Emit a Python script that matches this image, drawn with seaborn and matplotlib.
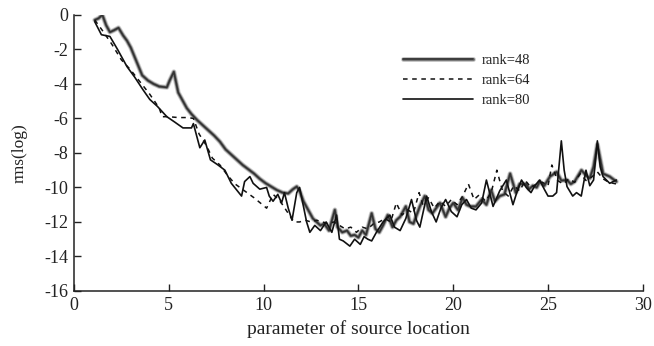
import matplotlib
matplotlib.use("Agg")
import matplotlib.pyplot as plt
import matplotlib.patheffects as pe
import seaborn as sns
import pandas as pd

# ---- data ----
x48 = [1.1, 1.3, 1.5, 1.7, 1.9, 2.1, 2.35, 2.6, 2.8, 3.0,
       3.3, 3.6, 3.9, 4.2, 4.5, 4.9, 5.05, 5.27, 5.5, 5.7,
       5.95, 6.2, 6.5, 6.8, 7.1, 7.4, 7.7, 8.0, 8.3, 8.6,
       8.9, 9.2, 9.5, 9.8, 10.1, 10.4, 10.7, 11.0, 11.3, 11.55,
       11.75, 11.9, 12.1, 12.35, 12.6, 12.8, 13.0, 13.2, 13.45, 13.76,
       13.9, 14.15, 14.4, 14.6, 14.8, 15.0, 15.2, 15.4, 15.7, 15.9,
       16.1, 16.3, 16.55, 16.8, 17.0, 17.2, 17.5, 17.7, 17.9, 18.24,
       18.5, 18.7, 18.9, 19.1, 19.3, 19.6, 19.8, 20.0, 20.25, 20.5,
       20.7, 20.9, 21.2, 21.5, 21.75, 22.0, 22.2, 22.45, 22.7, 23.0,
       23.3, 23.5, 23.85, 24.0, 24.2, 24.4, 24.56, 24.8, 25.1, 25.45,
       25.7, 26.0, 26.2, 26.4, 26.76, 27.0, 27.2, 27.4, 27.6, 27.9,
       28.25, 28.6]
y48 = [-0.3, -0.2, 0.0, -0.6, -1.0, -0.9, -0.75, -1.2, -1.5, -1.9,
       -2.7, -3.5, -3.8, -4.0, -4.15, -4.2, -3.8, -3.3, -4.5, -4.9,
       -5.4, -5.75, -6.1, -6.4, -6.7, -7.0, -7.35, -7.8, -8.1, -8.4,
       -8.7, -8.95, -9.2, -9.5, -9.75, -9.95, -10.15, -10.3, -10.35, -10.1,
       -9.95, -10.2, -10.8, -11.3, -11.8, -12.0, -12.2, -12.1, -12.5, -11.3,
       -12.3, -12.6, -12.5, -12.8, -12.75, -12.9, -12.5, -12.75, -11.5, -12.4,
       -12.6, -12.2, -11.6, -12.3, -11.9, -11.7, -11.1, -12.0, -12.1, -11.1,
       -10.5, -11.3, -11.5, -11.2, -10.9, -11.7, -11.2, -10.9, -11.3, -10.6,
       -11.0, -11.1, -11.1, -10.7, -11.0, -10.15, -10.8, -10.5, -10.4, -9.2,
       -10.3, -9.8, -9.8, -10.1, -9.9, -10.0, -9.66, -9.9, -9.37, -9.1,
       -9.6, -9.57, -9.8, -9.66, -9.0, -9.3, -9.47, -8.8, -7.5, -9.2,
       -9.37, -9.66]

x64 = [1.1, 1.5, 2.0, 2.5, 3.0, 3.5, 4.0, 4.5, 4.65, 5.0,
       5.5, 6.0, 6.3, 6.6, 7.0, 7.3, 7.7, 8.1, 8.5, 9.0,
       9.5, 10.16, 10.5, 10.8, 11.0, 11.3, 11.6, 11.9, 12.2, 12.5,
       12.8, 13.1, 13.4, 13.7, 14.0, 14.3, 14.6, 14.9, 15.2, 15.5,
       15.8, 16.1, 16.4, 16.7, 17.0, 17.3, 17.6, 17.9, 18.2, 18.4,
       18.7, 19.0, 19.3, 19.6, 19.9, 20.2, 20.5, 20.8, 21.1, 21.4,
       21.7, 22.0, 22.3, 22.6, 22.9, 23.2, 23.5, 23.8, 24.1, 24.4,
       24.7, 25.0, 25.2, 25.5, 25.8, 26.1, 26.4, 26.7, 27.0, 27.3,
       27.6, 27.9, 28.2, 28.6]
y64 = [-0.3, -0.9, -1.7, -2.6, -3.2, -3.9, -4.6, -5.4, -5.9, -5.9,
       -5.95, -5.95, -6.0, -6.9, -7.6, -8.3, -8.7, -9.3, -9.8, -10.2,
       -10.6, -11.2, -10.4, -10.7, -11.0, -11.5, -12.0, -12.0, -11.9, -12.0,
       -11.9, -12.0, -12.1, -12.0, -12.2, -12.4, -12.3, -12.6, -12.3, -12.4,
       -12.1, -12.0, -11.8, -12.0, -10.9, -11.6, -11.3, -11.5, -10.3, -11.0,
       -10.6, -11.2, -10.8, -11.1, -10.7, -11.0, -10.5, -9.8, -10.7, -10.4,
       -10.8, -10.3, -9.0, -10.2, -10.5, -9.9, -10.2, -9.6, -10.0, -9.8,
       -9.7, -9.9, -8.7, -9.6, -9.8, -9.5, -9.7, -9.2, -9.6, -9.4,
       -9.1, -9.5, -9.7, -9.8]

x80 = [1.1, 1.45, 1.9, 2.3, 2.8, 3.2, 3.65, 4.0, 4.4, 4.9,
       5.3, 5.75, 6.2, 6.3, 6.64, 6.9, 7.2, 7.6, 7.96, 8.3,
       8.84, 9.0, 9.28, 9.45, 9.8, 10.16, 10.3, 10.5, 10.75, 10.95,
       11.1, 11.3, 11.5, 11.75, 11.9, 12.27, 12.44, 12.7, 13.0, 13.3,
       13.6, 13.85, 14.0, 14.2, 14.55, 14.8, 15.1, 15.3, 15.5, 15.7,
       15.95, 16.3, 16.66, 16.9, 17.2, 17.5, 17.8, 18.06, 18.24, 18.6,
       18.85, 19.1, 19.35, 19.6, 19.9, 20.2, 20.45, 20.7, 20.95, 21.2,
       21.5, 21.75, 22.1, 22.45, 22.8, 23.15, 23.35, 23.6, 23.85, 24.1,
       24.3, 24.56, 24.8, 25.0, 25.25, 25.45, 25.7, 25.85, 26.0, 26.3,
       26.5, 26.75, 27.0, 27.2, 27.4, 27.6, 27.75, 27.9, 28.25, 28.6]
y80 = [-0.4, -1.15, -1.25, -2.0, -3.0, -3.6, -4.35, -4.9, -5.3, -5.9,
       -6.2, -6.55, -6.55, -6.3, -7.7, -7.25, -8.4, -8.7, -9.0, -9.76,
       -10.5, -9.66, -9.37, -9.76, -10.1, -10.0, -10.5, -10.8, -10.4, -10.9,
       -10.3, -11.2, -11.9, -10.3, -10.0, -12.0, -12.6, -12.2, -12.5, -12.0,
       -12.6, -11.6, -13.0, -13.1, -13.4, -13.0, -13.3, -12.85, -13.0, -13.1,
       -12.6, -12.0, -11.6, -12.3, -12.5, -11.8, -10.7, -11.9, -12.3, -10.5,
       -11.4, -12.0, -11.2, -10.7, -11.4, -11.7, -11.0, -10.7, -11.2, -11.3,
       -10.9, -9.57, -11.1, -10.2, -9.57, -11.0, -10.3, -9.57, -10.0, -10.3,
       -9.9, -9.57, -10.1, -10.5, -10.5, -10.3, -7.3, -9.0, -9.95, -10.5,
       -10.3, -10.5, -9.0, -9.9, -9.57, -7.3, -8.8, -9.37, -9.76, -9.57]

labels = ["rank=48", "rank=64", "rank=80"]
x_ticks = [0, 5, 10, 15, 20, 25, 30]
y_ticks = [0, -2, -4, -6, -8, -10, -12, -14, -16]

# ---- style ----
sns.set_theme(style="ticks")
plt.rcParams["font.family"] = ["Liberation Serif", "DejaVu Serif"]
plt.rcParams["axes.unicode_minus"] = False

fig = plt.figure(figsize=(6.54, 3.46), dpi=100)
ax = fig.add_axes([0.113, 0.159, 0.870, 0.798])

d48 = pd.DataFrame({"x": x48, "y": y48})
d64 = pd.DataFrame({"x": x64, "y": y64})
d80 = pd.DataFrame({"x": x80, "y": y80})

sns.lineplot(data=d48, x="x", y="y", ax=ax, sort=False, estimator=None,
             color="#333333", linewidth=1.2, label=labels[0])
sns.lineplot(data=d64, x="x", y="y", ax=ax, sort=False, estimator=None,
             color="#111111", linewidth=1.1, label=labels[1])
sns.lineplot(data=d80, x="x", y="y", ax=ax, sort=False, estimator=None,
             color="#111111", linewidth=1.2, label=labels[2])

halo = [pe.Stroke(linewidth=3.6, foreground="#cfcfcf"),
        pe.Stroke(linewidth=2.3, foreground="#7a7a7a"),
        pe.Normal()]
l48, l64, l80 = ax.lines[0], ax.lines[1], ax.lines[2]
l48.set_path_effects(halo)
l64.set_dashes((3, 3))

ax.set_xlim(0, 30)
ax.set_ylim(-16, 0)
ax.set_xticks(x_ticks)
ax.set_yticks(y_ticks)
ax.set_xticklabels([str(t) for t in x_ticks])
ax.set_yticklabels([str(t) for t in y_ticks])
ax.tick_params(direction="in", length=5, width=1.0, colors="#222222",
               labelsize=13, pad=4)
for s in ["top", "right"]:
    ax.spines[s].set_visible(False)
for s in ["left", "bottom"]:
    ax.spines[s].set_color("#222222")
    ax.spines[s].set_linewidth(1.1)

ax.set_xlabel("parameter of source location", fontsize=14, color="#222222", labelpad=5)
ax.set_ylabel("rms(log)", fontsize=12.5, color="#222222", labelpad=12)

leg = ax.legend(handles=[l48, l64, l80], labels=labels, frameon=False,
                loc="upper left", bbox_to_anchor=(0.565, 0.885),
                handlelength=4.8, handletextpad=0.6, labelspacing=0.45,
                borderpad=0, fontsize=10.5)
for t in leg.get_texts():
    t.set_color("#222222")

fig.savefig("out.png", dpi=100)
